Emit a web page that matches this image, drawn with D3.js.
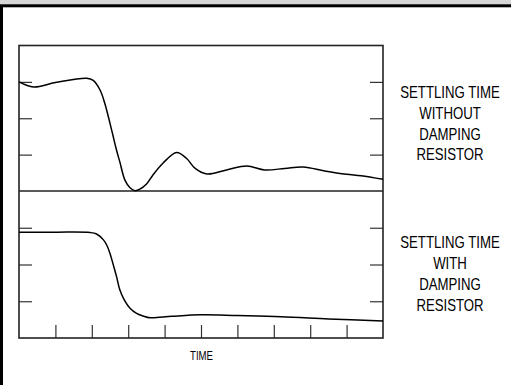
<!DOCTYPE html>
<html><head><meta charset="utf-8">
<script src="https://cdn.jsdelivr.net/npm/d3@7"></script>
<style>
html,body{margin:0;padding:0;background:#fff;}
svg{display:block;}
text{font-family:"Liberation Sans Narrow","Arial Narrow","Liberation Sans",Arial,sans-serif;fill:#000;}
</style></head>
<body>
<svg id="c" width="511" height="385"></svg>
<script>
// Data: time in grid units (0..10), response in grid units (0..4)
const topX = [0,0.4,1.0,1.86,2.04,2.23,2.36,2.5,2.59,2.68,2.77,2.91,3.05,3.19,3.32,3.51,3.68,3.96,4.33,4.6,4.84,5.16,5.7,6.26,6.75,7.3,7.81,8.4,9.0,9.4,10];
const topY = [3.0,2.86,2.98,3.10,3.04,2.77,2.40,1.86,1.49,1.12,0.80,0.30,0.09,0.01,0.05,0.20,0.44,0.77,1.06,0.90,0.62,0.47,0.58,0.69,0.58,0.62,0.66,0.55,0.46,0.42,0.32];
const botX = [0,1.0,1.95,2.13,2.32,2.41,2.5,2.59,2.68,2.77,2.87,3.05,3.23,3.41,3.6,4.2,5.0,6.0,7.2,8.5,10];
const botY = [2.88,2.88,2.87,2.83,2.67,2.53,2.30,1.99,1.67,1.31,1.08,0.81,0.67,0.60,0.55,0.59,0.63,0.61,0.58,0.52,0.46];
const xTicks = [1,2,3,4,5,6,7,8,9];
const yTicks = [1,2,3];
const topLabel = ["SETTLING TIME","WITHOUT","DAMPING","RESISTOR"];
const botLabel = ["SETTLING TIME","WITH","DAMPING","RESISTOR"];
const xTitle = "TIME";

const svg = d3.select("#c");
// outer frame (cropped figure border)
svg.append("rect").attr("x",0).attr("y",0).attr("width",511).attr("height",5).attr("fill","#d6d6d6");
svg.append("rect").attr("x",1.5).attr("y",5.8).attr("width",600).attr("height",500)
  .attr("fill","none").attr("stroke","#000").attr("stroke-width",3);

const L=19, R=383, T=45.5, M=191, B=338;
const x = d3.scaleLinear().domain([0,10]).range([L,R]);
const yTop = d3.scaleLinear().domain([0,4]).range([M,T]);
const yBot = d3.scaleLinear().domain([0,4]).range([B,M]);

const tickStroke = "#333";
function axes(g, y) {
  const gl = g.append("g").attr("transform",`translate(${L},0)`)
    .call(d3.axisRight(y).tickValues(yTicks).tickSize(13).tickFormat(""));
  const gr = g.append("g").attr("transform",`translate(${R},0)`)
    .call(d3.axisLeft(y).tickValues(yTicks).tickSize(13).tickFormat(""));
  [gl,gr].forEach(a=>{a.select(".domain").remove(); a.selectAll("line").attr("stroke",tickStroke).attr("stroke-width",1.2);});
}
axes(svg.append("g"), yTop);
axes(svg.append("g"), yBot);
const gx = svg.append("g").attr("transform",`translate(0,${B})`)
  .call(d3.axisTop(x).tickValues(xTicks).tickSize(13).tickFormat(""));
gx.select(".domain").remove();
gx.selectAll("line").attr("stroke",tickStroke).attr("stroke-width",1.2);

// frame
svg.append("rect").attr("x",L).attr("y",T).attr("width",R-L).attr("height",B-T)
  .attr("fill","none").attr("stroke","#222").attr("stroke-width",1.6);
svg.append("line").attr("x1",L).attr("x2",R).attr("y1",yTop(0)).attr("y2",yTop(0))
  .attr("stroke","#222").attr("stroke-width",1.6);

const line = (y)=>d3.line().x(d=>x(d[0])).y(d=>y(d[1])).curve(d3.curveCatmullRom.alpha(0.5));
svg.append("path").datum(topX.map((v,i)=>[v,topY[i]])).attr("d",line(yTop))
  .attr("fill","none").attr("stroke","#000").attr("stroke-width",1.5);
svg.append("path").datum(botX.map((v,i)=>[v,botY[i]])).attr("d",line(yBot))
  .attr("fill","none").attr("stroke","#000").attr("stroke-width",1.5);

const cx = 450, sx = 0.8;
function label(lines, y0) {
  const g = svg.append("g").attr("transform",`translate(${cx},0) scale(${sx},1)`);
  const t = g.append("text").attr("text-anchor","middle").attr("font-size",16.5);
  lines.forEach((s,i)=>t.append("tspan").attr("x",0).attr("y",y0+i*20.8).text(s));
}
label(topLabel, 98);
label(botLabel, 248.5);
svg.append("g").attr("transform",`translate(201.5,0) scale(${sx},1)`)
  .append("text").attr("x",0).attr("y",360).attr("text-anchor","middle")
  .attr("font-size",12).text(xTitle);
</script>
</body></html>
